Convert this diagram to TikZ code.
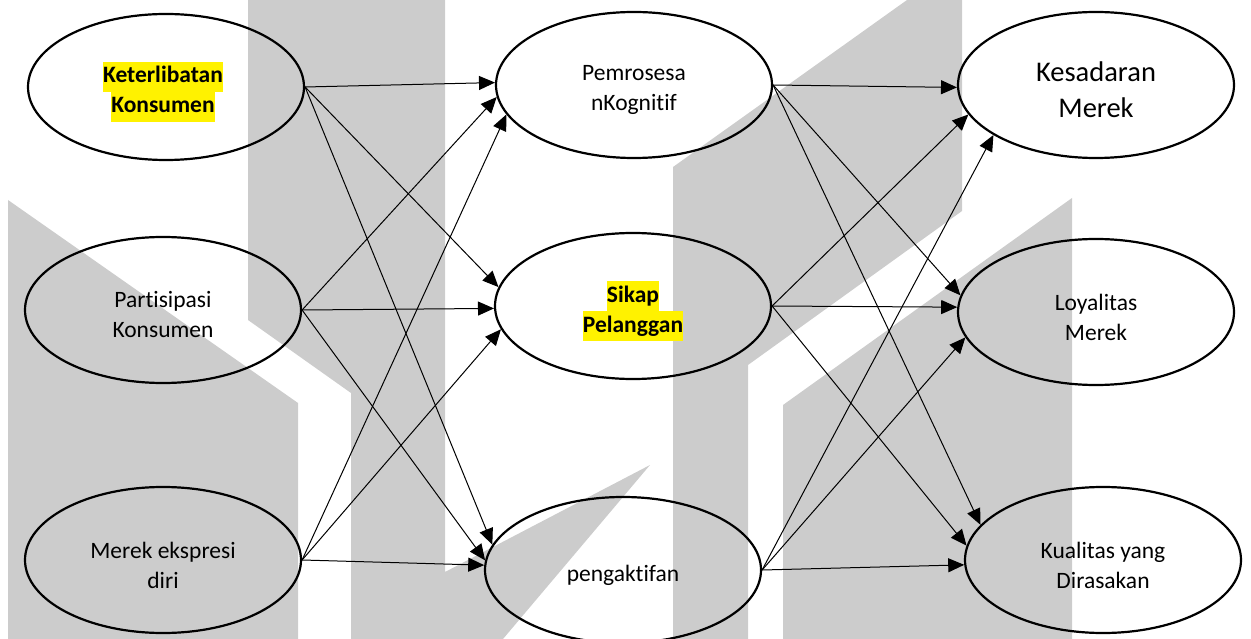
\documentclass[tikz,border=0pt]{standalone}
\usepackage{fontspec}
\setmainfont{Carlito}[Ligatures=NoCommon]
\usepackage{tikz}
\usetikzlibrary{shapes.geometric,arrows.meta}

\newcommand{\hilite}[1]{{\setlength{\fboxsep}{0pt}\colorbox{yellow}{\strut #1}}}

\tikzset{
  construct/.style={draw=black,line width=2.2pt,ellipse,minimum width=276pt,
    minimum height=146pt,inner sep=0pt},
  ctext/.style={align=center,inner sep=0pt,yshift=-5pt,
    font=\fontsize{23.5}{30}\selectfont},
  keytext/.style={ctext,font=\fontsize{23.5}{30}\selectfont\bfseries},
  bigtext/.style={ctext,font=\fontsize{28.5}{36}\selectfont},
  link/.style={draw=black,line width=1pt,-{Triangle[length=16pt,width=14pt]}},
}

\begin{document}
\begin{tikzpicture}[x=1pt,y=-1pt]
\useasboundingbox (0,0) rectangle (1251,639);
% watermark in the background:
\path[fill=black!20] (8,200) -- (298,403) -- (298,639) -- (8,639) -- cycle;
\path[fill=black!20] (248,0) -- (351,0) -- (351,393) -- (248,320) -- cycle;
\path[fill=black!20] (351,0) -- (445,0) -- (445,572) -- (650,465) -- (503,639) -- (351,639) -- cycle;
\path[fill=black!20] (673,167) -- (907,0) -- (962,0) -- (962,211) -- (748,365) -- (748,639) -- (673,639) -- cycle;
\path[fill=black!20] (783,405) -- (1072,198) -- (1072,639) -- (783,639) -- cycle;
% exogenous constructs:
\node[construct,label={[keytext,xshift=-3pt]center:{\hilite{Keterlibatan}\\\hilite{Konsumen}}}] (kel) at (166,87) {};
\node[construct,label={[ctext]center:{Partisipasi\\Konsumen}}] (par) at (163,310) {};
\node[construct,label={[ctext]center:{Merek ekspresi\\diri}}] (mer) at (163,560) {};
% mediating constructs:
\node[construct,label={[ctext]center:{Pemrosesa\\nKognitif}}] (kog) at (634,85) {};
\node[construct,label={[keytext]center:{\hilite{Sikap}\\\hilite{Pelanggan}}}] (sik) at (633,306) {};
\node[construct,label={[ctext]center:{pengaktifan}}] (akt) at (623,570) {};
% outcome constructs:
\node[construct,label={[bigtext]center:{Kesadaran\\Merek}}] (kes) at (1096,85) {};
\node[construct,label={[ctext]center:{Loyalitas\\Merek}}] (loy) at (1096,312) {};
\node[construct,label={[ctext]center:{Kualitas yang\\Dirasakan}}] (kua) at (1103,560) {};
% paths, left to middle:
\draw[link] (kel.east) -- (kog.179);
\draw[link] (kel.east) -- (sik.172);
\draw[link] (kel.east) -- (akt.169);
\draw[link] (par.east) -- (kog.185);
\draw[link] (par.east) -- (sik.181);
\draw[link] (par.east) -- (akt.176);
\draw[link] (mer.east) -- (kog.193);
\draw[link] (mer.east) -- (sik.190);
\draw[link] (mer.east) -- (akt.178);
% paths, middle to right:
\draw[link] (kog.east) -- (kes.181);
\draw[link] (kog.east) -- (loy.173);
\draw[link] (kog.east) -- (kua.164);
\draw[link] (sik.east) -- (kes.193);
\draw[link] (sik.east) -- (loy.178);
\draw[link] (sik.east) -- (kua.174);
\draw[link] (akt.east) -- (kes.206);
\draw[link] (akt.east) -- (loy.191);
\draw[link] (akt.east) -- (kua.182);
\end{tikzpicture}
\end{document}
